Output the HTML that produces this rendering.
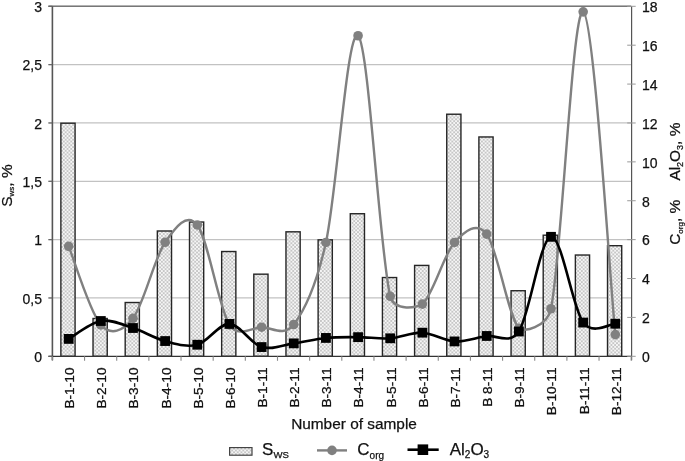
<!DOCTYPE html><html><head><meta charset="utf-8"><style>html,body{margin:0;padding:0;background:#fff;width:685px;height:461px;overflow:hidden}svg{display:block;will-change:transform}text{font-family:"Liberation Sans",sans-serif;fill:#111;stroke:#111;stroke-width:0.25px}</style></head><body>
<svg width="685" height="461" viewBox="0 0 685 461">
<defs><pattern id="chk" width="3.7" height="3.7" patternUnits="userSpaceOnUse"><rect width="3.7" height="3.7" fill="#f6f6f6"/><rect x="0" y="0" width="1.85" height="1.85" fill="#c6c6c6"/><rect x="1.85" y="1.85" width="1.85" height="1.85" fill="#c6c6c6"/></pattern></defs>
<line x1="48.4" y1="297.97" x2="631.2" y2="297.97" stroke="#c2c2c2" stroke-width="1.3"/>
<line x1="48.4" y1="239.63" x2="631.2" y2="239.63" stroke="#c2c2c2" stroke-width="1.3"/>
<line x1="48.4" y1="181.30" x2="631.2" y2="181.30" stroke="#c2c2c2" stroke-width="1.3"/>
<line x1="48.4" y1="122.97" x2="631.2" y2="122.97" stroke="#c2c2c2" stroke-width="1.3"/>
<line x1="48.4" y1="64.63" x2="631.2" y2="64.63" stroke="#c2c2c2" stroke-width="1.3"/>
<line x1="48.4" y1="6.30" x2="631.2" y2="6.30" stroke="#c2c2c2" stroke-width="1.3"/>
<line x1="48.4" y1="6.30" x2="631.2" y2="6.30" stroke="#777" stroke-width="1.4"/>
<rect x="60.88" y="123.20" width="14.20" height="233.10" fill="url(#chk)" stroke="#262626" stroke-width="1.4"/>
<rect x="93.03" y="318.50" width="14.20" height="37.80" fill="url(#chk)" stroke="#262626" stroke-width="1.4"/>
<rect x="125.19" y="302.52" width="14.20" height="53.78" fill="url(#chk)" stroke="#262626" stroke-width="1.4"/>
<rect x="157.34" y="231.00" width="14.20" height="125.30" fill="url(#chk)" stroke="#262626" stroke-width="1.4"/>
<rect x="189.50" y="222.02" width="14.20" height="134.28" fill="url(#chk)" stroke="#262626" stroke-width="1.4"/>
<rect x="221.66" y="251.53" width="14.20" height="104.77" fill="url(#chk)" stroke="#262626" stroke-width="1.4"/>
<rect x="253.81" y="274.17" width="14.20" height="82.13" fill="url(#chk)" stroke="#262626" stroke-width="1.4"/>
<rect x="285.97" y="231.82" width="14.20" height="124.48" fill="url(#chk)" stroke="#262626" stroke-width="1.4"/>
<rect x="318.12" y="239.87" width="14.20" height="116.43" fill="url(#chk)" stroke="#262626" stroke-width="1.4"/>
<rect x="350.28" y="213.73" width="14.20" height="142.57" fill="url(#chk)" stroke="#262626" stroke-width="1.4"/>
<rect x="382.43" y="277.55" width="14.20" height="78.75" fill="url(#chk)" stroke="#262626" stroke-width="1.4"/>
<rect x="414.59" y="265.42" width="14.20" height="90.88" fill="url(#chk)" stroke="#262626" stroke-width="1.4"/>
<rect x="446.74" y="114.22" width="14.20" height="242.08" fill="url(#chk)" stroke="#262626" stroke-width="1.4"/>
<rect x="478.90" y="136.97" width="14.20" height="219.33" fill="url(#chk)" stroke="#262626" stroke-width="1.4"/>
<rect x="511.06" y="290.73" width="14.20" height="65.57" fill="url(#chk)" stroke="#262626" stroke-width="1.4"/>
<rect x="543.21" y="235.20" width="14.20" height="121.10" fill="url(#chk)" stroke="#262626" stroke-width="1.4"/>
<rect x="575.37" y="255.03" width="14.20" height="101.27" fill="url(#chk)" stroke="#262626" stroke-width="1.4"/>
<rect x="607.52" y="245.70" width="14.20" height="110.60" fill="url(#chk)" stroke="#262626" stroke-width="1.4"/>
<line x1="52.4" y1="6.3" x2="52.4" y2="360.3" stroke="#555" stroke-width="1.6"/>
<line x1="631.6" y1="6.3" x2="631.6" y2="360.3" stroke="#555" stroke-width="1.2"/>
<line x1="48.4" y1="356.4" x2="631.6" y2="356.4" stroke="#333" stroke-width="1.3"/>
<line x1="48.4" y1="356.30" x2="52.4" y2="356.30" stroke="#666" stroke-width="1.2"/>
<line x1="48.4" y1="297.97" x2="52.4" y2="297.97" stroke="#666" stroke-width="1.2"/>
<line x1="48.4" y1="239.63" x2="52.4" y2="239.63" stroke="#666" stroke-width="1.2"/>
<line x1="48.4" y1="181.30" x2="52.4" y2="181.30" stroke="#666" stroke-width="1.2"/>
<line x1="48.4" y1="122.97" x2="52.4" y2="122.97" stroke="#666" stroke-width="1.2"/>
<line x1="48.4" y1="64.63" x2="52.4" y2="64.63" stroke="#666" stroke-width="1.2"/>
<line x1="48.4" y1="6.30" x2="52.4" y2="6.30" stroke="#666" stroke-width="1.2"/>
<line x1="627.2" y1="356.30" x2="635.7" y2="356.30" stroke="#999" stroke-width="1.0"/>
<line x1="627.2" y1="317.41" x2="635.7" y2="317.41" stroke="#999" stroke-width="1.0"/>
<line x1="627.2" y1="278.52" x2="635.7" y2="278.52" stroke="#999" stroke-width="1.0"/>
<line x1="627.2" y1="239.63" x2="635.7" y2="239.63" stroke="#999" stroke-width="1.0"/>
<line x1="627.2" y1="200.74" x2="635.7" y2="200.74" stroke="#999" stroke-width="1.0"/>
<line x1="627.2" y1="161.86" x2="635.7" y2="161.86" stroke="#999" stroke-width="1.0"/>
<line x1="627.2" y1="122.97" x2="635.7" y2="122.97" stroke="#999" stroke-width="1.0"/>
<line x1="627.2" y1="84.08" x2="635.7" y2="84.08" stroke="#999" stroke-width="1.0"/>
<line x1="627.2" y1="45.19" x2="635.7" y2="45.19" stroke="#999" stroke-width="1.0"/>
<line x1="627.2" y1="6.30" x2="635.7" y2="6.30" stroke="#999" stroke-width="1.0"/>
<line x1="52.40" y1="356.3" x2="52.40" y2="360.8" stroke="#8a8a8a" stroke-width="1.1"/>
<line x1="84.56" y1="356.3" x2="84.56" y2="360.8" stroke="#8a8a8a" stroke-width="1.1"/>
<line x1="116.71" y1="356.3" x2="116.71" y2="360.8" stroke="#8a8a8a" stroke-width="1.1"/>
<line x1="148.87" y1="356.3" x2="148.87" y2="360.8" stroke="#8a8a8a" stroke-width="1.1"/>
<line x1="181.02" y1="356.3" x2="181.02" y2="360.8" stroke="#8a8a8a" stroke-width="1.1"/>
<line x1="213.18" y1="356.3" x2="213.18" y2="360.8" stroke="#8a8a8a" stroke-width="1.1"/>
<line x1="245.33" y1="356.3" x2="245.33" y2="360.8" stroke="#8a8a8a" stroke-width="1.1"/>
<line x1="277.49" y1="356.3" x2="277.49" y2="360.8" stroke="#8a8a8a" stroke-width="1.1"/>
<line x1="309.64" y1="356.3" x2="309.64" y2="360.8" stroke="#8a8a8a" stroke-width="1.1"/>
<line x1="341.80" y1="356.3" x2="341.80" y2="360.8" stroke="#8a8a8a" stroke-width="1.1"/>
<line x1="373.96" y1="356.3" x2="373.96" y2="360.8" stroke="#8a8a8a" stroke-width="1.1"/>
<line x1="406.11" y1="356.3" x2="406.11" y2="360.8" stroke="#8a8a8a" stroke-width="1.1"/>
<line x1="438.27" y1="356.3" x2="438.27" y2="360.8" stroke="#8a8a8a" stroke-width="1.1"/>
<line x1="470.42" y1="356.3" x2="470.42" y2="360.8" stroke="#8a8a8a" stroke-width="1.1"/>
<line x1="502.58" y1="356.3" x2="502.58" y2="360.8" stroke="#8a8a8a" stroke-width="1.1"/>
<line x1="534.73" y1="356.3" x2="534.73" y2="360.8" stroke="#8a8a8a" stroke-width="1.1"/>
<line x1="566.89" y1="356.3" x2="566.89" y2="360.8" stroke="#8a8a8a" stroke-width="1.1"/>
<line x1="599.04" y1="356.3" x2="599.04" y2="360.8" stroke="#8a8a8a" stroke-width="1.1"/>
<line x1="631.20" y1="356.3" x2="631.20" y2="360.8" stroke="#8a8a8a" stroke-width="1.1"/>
<path d="M68.68,246.34 C74.04,259.43 90.11,312.91 100.83,324.90 C110.91,336.17 122.91,331.24 132.99,318.29 C143.71,304.51 154.43,257.81 165.14,242.26 C175.50,227.22 186.94,211.64 197.30,224.95 C208.02,238.73 218.74,307.85 229.46,324.90 C238.04,338.54 253.03,327.28 261.61,327.23 C271.36,327.17 284.02,337.36 293.77,324.51 C303.35,311.88 316.34,285.46 325.92,242.45 C336.64,194.33 347.36,26.78 358.08,35.76 C368.80,44.74 379.51,251.59 390.23,296.31 C394.09,312.40 418.53,307.32 422.39,304.09 C433.11,295.11 443.83,254.12 454.54,242.45 C464.50,231.62 476.75,220.79 486.70,234.09 C497.42,248.42 508.14,315.95 518.86,328.40 C522.61,332.75 547.26,327.22 551.01,308.76 C561.73,256.00 572.45,7.53 583.17,11.84 C593.89,16.15 609.96,280.82 615.32,334.62" fill="none" stroke="#808080" stroke-width="2.4"/>
<circle cx="68.68" cy="246.34" r="4.8" fill="#808080"/>
<circle cx="100.83" cy="324.90" r="4.8" fill="#808080"/>
<circle cx="132.99" cy="318.29" r="4.8" fill="#808080"/>
<circle cx="165.14" cy="242.26" r="4.8" fill="#808080"/>
<circle cx="197.30" cy="224.95" r="4.8" fill="#808080"/>
<circle cx="229.46" cy="324.90" r="4.8" fill="#808080"/>
<circle cx="261.61" cy="327.23" r="4.8" fill="#808080"/>
<circle cx="293.77" cy="324.51" r="4.8" fill="#808080"/>
<circle cx="325.92" cy="242.45" r="4.8" fill="#808080"/>
<circle cx="358.08" cy="35.76" r="4.8" fill="#808080"/>
<circle cx="390.23" cy="296.31" r="4.8" fill="#808080"/>
<circle cx="422.39" cy="304.09" r="4.8" fill="#808080"/>
<circle cx="454.54" cy="242.45" r="4.8" fill="#808080"/>
<circle cx="486.70" cy="234.09" r="4.8" fill="#808080"/>
<circle cx="518.86" cy="328.40" r="4.8" fill="#808080"/>
<circle cx="551.01" cy="308.76" r="4.8" fill="#808080"/>
<circle cx="583.17" cy="11.84" r="4.8" fill="#808080"/>
<circle cx="615.32" cy="334.62" r="4.8" fill="#808080"/>
<path d="M68.68,338.90 C74.04,335.92 90.11,322.82 100.83,321.01 C111.55,319.19 122.27,324.67 132.99,328.01 C143.71,331.35 154.43,338.25 165.14,341.04 C175.86,343.82 186.58,347.58 197.30,344.73 C208.02,341.88 218.74,323.54 229.46,323.93 C240.17,324.31 250.89,343.82 261.61,347.06 C272.33,350.30 283.05,344.89 293.77,343.37 C304.49,341.85 315.20,338.96 325.92,337.93 C336.64,336.89 347.36,337.08 358.08,337.15 C368.80,337.21 379.51,339.06 390.23,338.31 C400.95,337.57 411.67,332.16 422.39,332.68 C433.11,333.19 443.83,340.87 454.54,341.43 C465.26,341.98 475.98,337.63 486.70,335.98 C495.53,334.62 510.02,345.13 518.86,331.51 C529.57,314.98 540.29,238.30 551.01,236.81 C561.73,235.32 572.45,308.08 583.17,322.56 C592.74,335.50 610.54,323.56 615.32,323.73" fill="none" stroke="#000" stroke-width="2.6"/>
<rect x="63.78" y="334.00" width="9.8" height="9.8" fill="#000"/>
<rect x="95.93" y="316.11" width="9.8" height="9.8" fill="#000"/>
<rect x="128.09" y="323.11" width="9.8" height="9.8" fill="#000"/>
<rect x="160.24" y="336.14" width="9.8" height="9.8" fill="#000"/>
<rect x="192.40" y="339.83" width="9.8" height="9.8" fill="#000"/>
<rect x="224.56" y="319.03" width="9.8" height="9.8" fill="#000"/>
<rect x="256.71" y="342.16" width="9.8" height="9.8" fill="#000"/>
<rect x="288.87" y="338.47" width="9.8" height="9.8" fill="#000"/>
<rect x="321.02" y="333.03" width="9.8" height="9.8" fill="#000"/>
<rect x="353.18" y="332.25" width="9.8" height="9.8" fill="#000"/>
<rect x="385.33" y="333.41" width="9.8" height="9.8" fill="#000"/>
<rect x="417.49" y="327.78" width="9.8" height="9.8" fill="#000"/>
<rect x="449.64" y="336.53" width="9.8" height="9.8" fill="#000"/>
<rect x="481.80" y="331.08" width="9.8" height="9.8" fill="#000"/>
<rect x="513.96" y="326.61" width="9.8" height="9.8" fill="#000"/>
<rect x="546.11" y="231.91" width="9.8" height="9.8" fill="#000"/>
<rect x="578.27" y="317.66" width="9.8" height="9.8" fill="#000"/>
<rect x="610.42" y="318.83" width="9.8" height="9.8" fill="#000"/>
<text x="42" y="362.10" font-size="14" text-anchor="end">0</text>
<text x="42" y="303.77" font-size="14" text-anchor="end">0,5</text>
<text x="42" y="245.43" font-size="14" text-anchor="end">1</text>
<text x="42" y="187.10" font-size="14" text-anchor="end">1,5</text>
<text x="42" y="128.77" font-size="14" text-anchor="end">2</text>
<text x="42" y="70.43" font-size="14" text-anchor="end">2,5</text>
<text x="42" y="12.10" font-size="14" text-anchor="end">3</text>
<text x="642" y="362.10" font-size="14">0</text>
<text x="642" y="323.21" font-size="14">2</text>
<text x="642" y="284.32" font-size="14">4</text>
<text x="642" y="245.43" font-size="14">6</text>
<text x="642" y="206.54" font-size="14">8</text>
<text x="642" y="167.66" font-size="14">10</text>
<text x="642" y="128.77" font-size="14">12</text>
<text x="642" y="89.88" font-size="14">14</text>
<text x="642" y="50.99" font-size="14">16</text>
<text x="642" y="12.10" font-size="14">18</text>
<text transform="translate(74.08,367.5) rotate(-90)" font-size="13.7" text-anchor="end">B-1-10</text>
<text transform="translate(106.23,367.5) rotate(-90)" font-size="13.7" text-anchor="end">B-2-10</text>
<text transform="translate(138.39,367.5) rotate(-90)" font-size="13.7" text-anchor="end">B-3-10</text>
<text transform="translate(170.54,367.5) rotate(-90)" font-size="13.7" text-anchor="end">B-4-10</text>
<text transform="translate(202.70,367.5) rotate(-90)" font-size="13.7" text-anchor="end">B-5-10</text>
<text transform="translate(234.86,367.5) rotate(-90)" font-size="13.7" text-anchor="end">B-6-10</text>
<text transform="translate(267.01,367.5) rotate(-90)" font-size="13.7" text-anchor="end">B-1-11</text>
<text transform="translate(299.17,367.5) rotate(-90)" font-size="13.7" text-anchor="end">B-2-11</text>
<text transform="translate(331.32,367.5) rotate(-90)" font-size="13.7" text-anchor="end">B-3-11</text>
<text transform="translate(363.48,367.5) rotate(-90)" font-size="13.7" text-anchor="end">B-4-11</text>
<text transform="translate(395.63,367.5) rotate(-90)" font-size="13.7" text-anchor="end">B-5-11</text>
<text transform="translate(427.79,367.5) rotate(-90)" font-size="13.7" text-anchor="end">B-6-11</text>
<text transform="translate(459.94,367.5) rotate(-90)" font-size="13.7" text-anchor="end">B-7-11</text>
<text transform="translate(492.10,367.5) rotate(-90)" font-size="13.7" text-anchor="end">B&#160;8-11</text>
<text transform="translate(524.26,367.5) rotate(-90)" font-size="13.7" text-anchor="end">B-9-11</text>
<text transform="translate(556.41,367.5) rotate(-90)" font-size="13.7" text-anchor="end">B-10-11</text>
<text transform="translate(588.57,367.5) rotate(-90)" font-size="13.7" text-anchor="end">B-11-11</text>
<text transform="translate(620.72,367.5) rotate(-90)" font-size="13.7" text-anchor="end">B-12-11</text>
<text x="354" y="429.1" font-size="15.4" text-anchor="middle">Number of sample</text>
<text transform="translate(11.9,206.7) rotate(-90)" font-size="15.4">S<tspan font-size="8" dy="2.5">ws</tspan><tspan dy="-2.5">, %</tspan></text>
<text transform="translate(680.2,244.8) rotate(-90)" font-size="15.4">C<tspan font-size="8" dy="2.5">org</tspan><tspan dy="-2.5">, %&#160;&#160;&#160;&#160;</tspan><tspan dx="2.2">Al</tspan><tspan font-size="9" dy="2.5">2</tspan><tspan dy="-2.5">O</tspan><tspan font-size="9" dy="2.5">3</tspan><tspan dy="-2.5">, %</tspan></text>
<rect x="229.6" y="447.6" width="22.4" height="7.6" fill="url(#chk)" stroke="#444" stroke-width="1.2"/>
<text x="262.1" y="455" font-size="17">S<tspan font-size="9.6" dy="3.2">WS</tspan></text>
<line x1="317" y1="450.4" x2="347" y2="450.4" stroke="#808080" stroke-width="2.4"/>
<circle cx="332" cy="450.4" r="4.8" fill="#808080"/>
<text x="357.3" y="455" font-size="17">C<tspan font-size="10" dy="3.5">org</tspan></text>
<line x1="407.5" y1="449.7" x2="438.7" y2="449.7" stroke="#000" stroke-width="2.6"/>
<rect x="417.6" y="444.4" width="10.6" height="10.6" fill="#000"/>
<text x="449.7" y="454.7" font-size="17">Al<tspan font-size="10" dy="3.3">2</tspan><tspan dy="-3.3">O</tspan><tspan font-size="10" dy="3.3">3</tspan></text>
</svg></body></html>
